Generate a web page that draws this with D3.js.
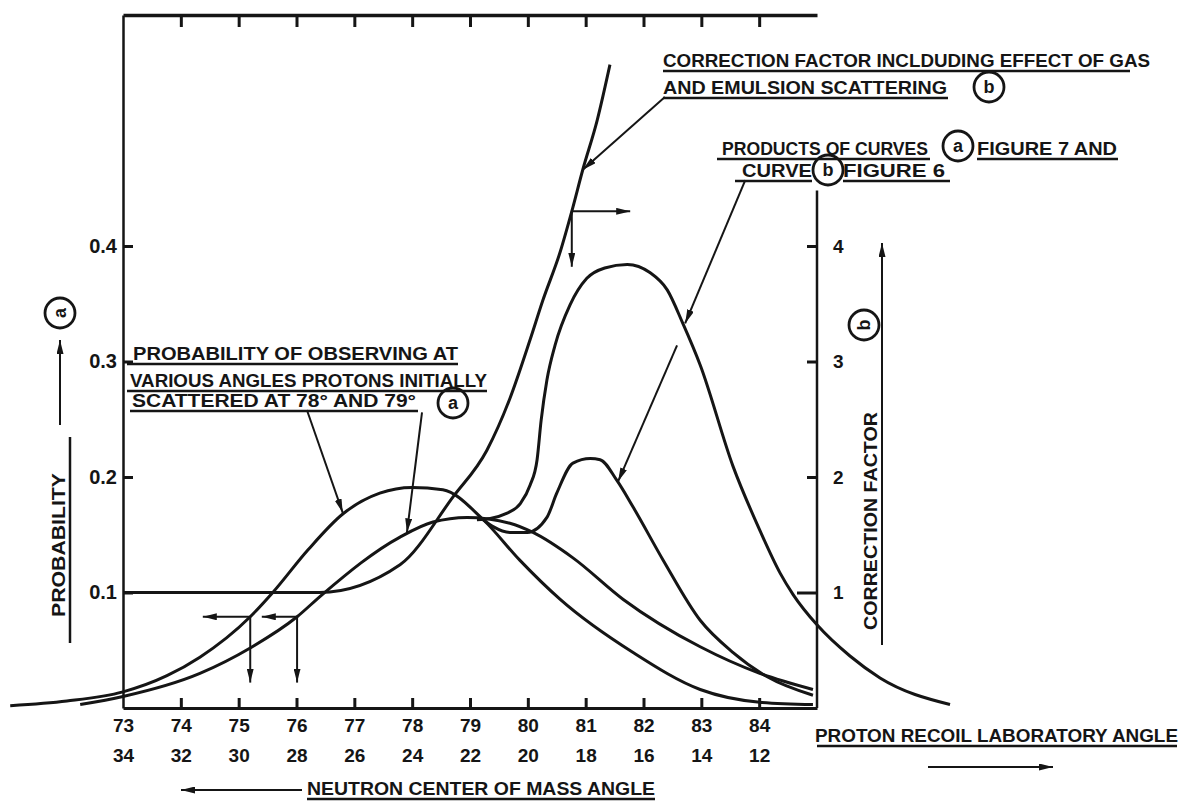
<!DOCTYPE html>
<html>
<head>
<meta charset="utf-8">
<script src="https://cdn.jsdelivr.net/npm/d3@7"></script>
<style>
body{margin:0;background:#fff;}
text{font-family:"Liberation Sans",Arial,sans-serif;font-weight:bold;fill:#151515;}
</style>
</head>
<body>
<script>
var w = 1196;
var h = 804;

// tick labels
var labAngles = [73,74,75,76,77,78,79,80,81,82,83,84];
var cmAngles = [34,32,30,28,26,24,22,20,18,16,14,12];
var topTicks = [74,75,76,77,78,79,80,81,82,83,84];
var probTicks = [0.1,0.2,0.3,0.4];
var corrTicks = [1,2,3,4];

// curves (a): probability, protons scattered at 78 and 79 deg  [angle, probability]
var p78 = [[71.05,0.002],[72.03,0.006],[73.0,0.014],[73.76,0.028],[74.33,0.044],[75.2,0.079],[75.59,0.100],
           [76.2,0.137],[76.8,0.168],[77.44,0.186],[78.0,0.191],[78.53,0.189],[79.23,0.163],[79.86,0.128],
           [80.56,0.094],[81.82,0.048],[82.98,0.016],[84.01,0.005],[84.93,0.003]];
var p79 = [[72.26,0.003],[73.0,0.010],[74.33,0.030],[75.2,0.052],[76.01,0.079],[76.44,0.098],[77.79,0.148],
           [78.36,0.161],[78.95,0.165],[79.69,0.160],[80.09,0.152],[80.78,0.130],[81.65,0.094],[82.98,0.053],
           [84.01,0.030],[84.93,0.016]];
// curve (b): correction factor  [angle, factor]
var corrB = [[73,1],[76.4,1],[77.79,1.24],[78.71,1.83],[79.29,2.23],[79.69,2.68],[80.04,3.19],[80.26,3.53],
             [80.56,3.95],[80.76,4.30],[80.95,4.66],[81.2,5.09],[81.42,5.57]];
// products of (a) and (b)
var prodSmall = [[79.23,0.163],[79.4,0.157],[79.69,0.152],[79.99,0.152],[80.33,0.165],[80.5,0.186],[80.78,0.212],
                 [81.08,0.216],[81.25,0.215],[81.54,0.197],[81.82,0.174],[82.34,0.128],[82.98,0.076],[83.55,0.048],
                 [84.14,0.027],[84.93,0.011]];
var prodBig = [[79.12,0.163],[79.35,0.164],[79.61,0.168],[79.87,0.177],[80.04,0.193],[80.16,0.215],[80.23,0.249],
               [80.33,0.284],[80.47,0.314],[80.73,0.349],[81.02,0.372],[81.33,0.381],[81.72,0.384],[82.11,0.377],
               [82.41,0.362],[82.68,0.333],[82.98,0.297],[83.55,0.209],[84.01,0.154],[84.36,0.117],[84.59,0.098],
               [85.0,0.072],[85.57,0.045],[86.09,0.026],[87.3,0.003]];

var x = d3.scaleLinear().domain([73,85]).range([123,817]);
var y = d3.scaleLinear().domain([0,0.6]).range([708,15]);
var yR = d3.scaleLinear().domain([0,6]).range([708,15]);

var svg = d3.select("body")
            .append("svg")
            .attr("width",w)
            .attr("height",h);

svg.append("rect").attr("width",w).attr("height",h).attr("fill","#fff");

var defs = svg.append("defs");
defs.append("marker")
    .attr("id","arr")
    .attr("viewBox","0 -3 12 6")
    .attr("refX",12).attr("refY",0)
    .attr("markerWidth",14).attr("markerHeight",7)
    .attr("markerUnits","userSpaceOnUse")
    .attr("orient","auto")
    .append("path")
    .attr("d","M0,-3L12,0L0,3Z")
    .attr("fill","#151515");

/**** axes ****/
function styleAxis(g, sw){
    g.select(".domain").attr("stroke","#151515").attr("stroke-width",sw);
    g.selectAll(".tick line").attr("stroke","#151515").attr("stroke-width",3);
    g.selectAll(".tick text").attr("font-size",19).attr("fill","#151515")
     .attr("font-family","Liberation Sans, Arial, sans-serif").attr("font-weight","bold");
}

var gl = svg.append("g").attr("transform","translate(123,0)")
    .call(d3.axisLeft(y).tickValues(probTicks).tickSizeInner(-10).tickSizeOuter(0)
          .tickPadding(6).tickFormat(d3.format(".1f")));
styleAxis(gl, 2.5);
gl.selectAll(".tick text").attr("font-size",20);

var gb = svg.append("g").attr("transform","translate(0,708)")
    .call(d3.axisBottom(x).tickValues(labAngles).tickSizeInner(-10).tickSizeOuter(0).tickPadding(11));
styleAxis(gb, 3);
gb.selectAll(".tick").filter(function(d){return d==73;}).select("line").remove();

var gb2 = svg.append("g").attr("transform","translate(0,738)")
    .call(d3.axisBottom(x).tickValues(labAngles).tickSize(0).tickPadding(11)
          .tickFormat(function(d,i){return cmAngles[i];}));
styleAxis(gb2, 0);
gb2.select(".domain").remove();

var gt = svg.append("g").attr("transform","translate(0,15)")
    .call(d3.axisTop(x).tickValues(topTicks).tickSizeInner(-12).tickSizeOuter(0).tickFormat(""));
styleAxis(gt, 3.5);

var gr = svg.append("g").attr("transform","translate(817,0)")
    .call(d3.axisRight(yR).tickValues(corrTicks).tickSizeInner(-10).tickSizeOuter(0).tickPadding(16)
          .tickFormat(d3.format("d")));
styleAxis(gr, 0);
gr.select(".domain").remove();
gr.selectAll(".tick").filter(function(d){return d==1;}).select("line").attr("x2",-20);
svg.append("line")
    .attr("x1",x(85)).attr("x2",x(85))
    .attr("y1",yR(4.48)).attr("y2",yR(0))
    .attr("stroke","#151515").attr("stroke-width",2.5);

/**** curves ****/
var lineP = d3.line()
    .x(function(d){return x(d[0]);})
    .y(function(d){return y(d[1]);})
    .curve(d3.curveMonotoneX);
var lineB = d3.line()
    .x(function(d){return x(d[0]);})
    .y(function(d){return yR(d[1]);})
    .curve(d3.curveMonotoneX);

svg.selectAll("path.prob")
    .data([p78,p79,prodSmall,prodBig])
    .enter()
    .append("path")
    .attr("class","prob")
    .attr("d",lineP)
    .attr("fill","none")
    .attr("stroke","#151515")
    .attr("stroke-width",3);

svg.append("path")
    .attr("d",lineB(corrB))
    .attr("fill","none")
    .attr("stroke","#151515")
    .attr("stroke-width",3);

/**** leader arrows ****/
var leaders = [
    [[82.37,0.529],[80.95,0.466]],
    [[80.76,0.430],[81.77,0.430]],
    [[80.76,0.430],[80.76,0.382]],
    [[83.76,0.457],[82.72,0.333]],
    [[82.58,0.314],[81.56,0.196]],
    [[76.18,0.258],[76.80,0.169]],
    [[78.17,0.256],[77.91,0.152]],
    [[75.2,0.079],[74.38,0.079]],
    [[75.2,0.079],[75.2,0.022]],
    [[76.01,0.079],[75.4,0.079]],
    [[76.01,0.079],[76.01,0.022]]
];
svg.selectAll("line.lead")
    .data(leaders)
    .enter()
    .append("line")
    .attr("class","lead")
    .attr("x1",function(d){return x(d[0][0]);})
    .attr("y1",function(d){return y(d[0][1]);})
    .attr("x2",function(d){return x(d[1][0]);})
    .attr("y2",function(d){return y(d[1][1]);})
    .attr("stroke","#151515")
    .attr("stroke-width",2)
    .attr("marker-end","url(#arr)");

/**** lettering ****/
function note(s, x0, yb, len, u0, u1){
    svg.append("text").attr("x",x0).attr("y",yb).attr("font-size",18)
       .attr("textLength",len).attr("lengthAdjust","spacingAndGlyphs").text(s);
    if(u0 != null){
        svg.append("line").attr("x1",u0).attr("x2",u1).attr("y1",yb+4).attr("y2",yb+4)
           .attr("stroke","#151515").attr("stroke-width",2.5);
    }
}
function circ(cx, cy, s, rot){
    var g = svg.append("g").attr("transform","translate("+cx+","+cy+")"+(rot?" rotate(-90)":""));
    g.append("circle").attr("r",15).attr("fill","none").attr("stroke","#151515").attr("stroke-width",2.8);
    g.append("text").attr("text-anchor","middle").attr("dy","0.36em").attr("font-size",18).text(s);
}
function arrow(x1,y1,x2,y2){
    svg.append("line").attr("x1",x1).attr("y1",y1).attr("x2",x2).attr("y2",y2)
       .attr("stroke","#151515").attr("stroke-width",2).attr("marker-end","url(#arr)");
}

note("CORRECTION FACTOR INCLDUDING EFFECT OF GAS", 663, 67, 487, 663, 1130);
note("AND EMULSION SCATTERING", 663, 94, 284, 663, 948);
circ(989, 87, "b");

note("PRODUCTS OF CURVES", 722, 155, 206, 717, 930);
circ(958, 146, "a");
note("FIGURE 7 AND", 977, 155, 140, 977, 1118);
note("CURVE", 742, 177, 70, 735, 812);
circ(828, 170, "b");
note("FIGURE 6", 843, 177, 102, 843, 950);

note("PROBABILITY OF OBSERVING AT", 133, 360, 325, 127, 458);
note("VARIOUS ANGLES PROTONS INITIALLY", 130, 387, 357, 127, 487);
note("SCATTERED AT 78\u00B0 AND 79\u00B0", 132, 407, 284, 130, 418);
circ(453, 403, "a");

note("NEUTRON  CENTER OF MASS ANGLE", 307, 795, 348, 307, 655);
arrow(302, 790, 181, 790);
note("PROTON  RECOIL LABORATORY ANGLE", 815, 742, 363, 817, 1177);
arrow(928, 767, 1053, 767);

// rotated axis titles
svg.append("text").attr("transform","translate(65,545) rotate(-90)").attr("text-anchor","middle")
   .attr("font-size",19).attr("textLength",144).attr("lengthAdjust","spacingAndGlyphs").text("PROBABILITY");
svg.append("line").attr("x1",70).attr("x2",70).attr("y1",643).attr("y2",437)
   .attr("stroke","#151515").attr("stroke-width",2.5);
arrow(60, 425, 60, 340);
circ(60, 313, "a", true);

svg.append("text").attr("transform","translate(877,521) rotate(-90)").attr("text-anchor","middle")
   .attr("font-size",19).attr("textLength",218).attr("lengthAdjust","spacingAndGlyphs").text("CORRECTION  FACTOR");
arrow(882, 645, 882, 243);
circ(864, 325, "b", true);
</script>
</body>
</html>
